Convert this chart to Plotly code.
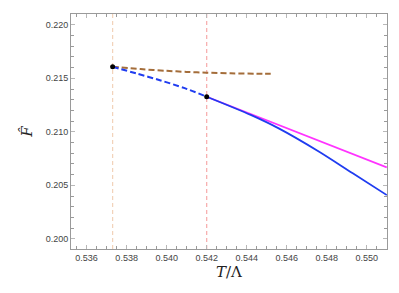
import plotly.graph_objects as go

# --- data ---
transition_T = [0.5373, 0.5420]          # vertical dashed markers
transition_colors = ["#f2d2ba", "#f7aaaa"]

brown_T = [0.5373, 0.5387, 0.5400, 0.5410, 0.5420, 0.5432, 0.5445, 0.5452]
brown_F = [0.21608, 0.21586, 0.21570, 0.21560, 0.21553, 0.21547, 0.21543, 0.21542]

blue_dash_T = [0.5373, 0.5385, 0.5397, 0.5409, 0.5420]
blue_dash_F = [0.21608, 0.21545, 0.21480, 0.21408, 0.21328]

blue_T = [0.5420, 0.5442, 0.5456, 0.5476, 0.5493, 0.5510]
blue_F = [0.21328, 0.21158, 0.21032, 0.20816, 0.20612, 0.20409]

magenta_T = [0.5420, 0.5465, 0.5510]
magenta_F = [0.21328, 0.20998, 0.20668]

dots_T = [0.5373, 0.5420]
dots_F = [0.21608, 0.21328]

x_ticks = [0.536, 0.538, 0.540, 0.542, 0.544, 0.546, 0.548, 0.550]
y_ticks = [0.200, 0.205, 0.210, 0.215, 0.220]

fig = go.Figure()

for xv, c in zip(transition_T, transition_colors):
    fig.add_vline(x=xv, line=dict(color=c, width=1.2, dash="4px,3px"), layer="below")

fig.add_trace(go.Scatter(x=brown_T, y=brown_F, mode="lines",
                         line=dict(color="#a46d3a", width=2, dash="6px,3px",
                                   shape="spline", smoothing=0.8)))
fig.add_trace(go.Scatter(x=blue_dash_T, y=blue_dash_F, mode="lines",
                         line=dict(color="#1f3cf0", width=2, dash="6px,3px",
                                   shape="spline", smoothing=0.8)))
fig.add_trace(go.Scatter(x=magenta_T, y=magenta_F, mode="lines",
                         line=dict(color="#ff33ff", width=1.8)))
fig.add_trace(go.Scatter(x=blue_T, y=blue_F, mode="lines",
                         line=dict(color="#1f3cf0", width=1.8,
                                   shape="spline", smoothing=0.8)))
fig.add_trace(go.Scatter(x=dots_T, y=dots_F, mode="markers",
                         marker=dict(color="black", size=5)))

axis_common = dict(
    showgrid=False, zeroline=False, showline=True, mirror="allticks",
    linecolor="#9a9a9a", linewidth=1, ticks="inside", ticklen=4,
    tickcolor="#b8b8b8", tickwidth=1, automargin=False,
    tickfont=dict(family="Liberation Sans, Arial, sans-serif", size=9, color="#444"),
)

fig.update_xaxes(
    **axis_common,
    range=[0.53522, 0.55101],
    tickvals=x_ticks, ticktext=[f"{v:.3f}" for v in x_ticks],
    minor=dict(dtick=0.0005, tick0=0.536, ticks="inside", ticklen=3, tickcolor="#9a9a9a"),
    title=dict(text="<i>T</i>/Λ", font=dict(family="DejaVu Serif, serif", size=15, color="#222"),
               standoff=4),
)
fig.update_yaxes(
    **axis_common,
    range=[0.19905, 0.22101],
    tickvals=y_ticks, ticktext=[f"{v:.3f}" for v in y_ticks],
    minor=dict(dtick=0.001, tick0=0.2, ticks="inside", ticklen=3, tickcolor="#9a9a9a"),
    title=dict(text="<i>F̂</i>", font=dict(family="DejaVu Serif, serif", size=15, color="#222"),
               standoff=9),
)

fig.update_layout(
    width=391, height=285,
    margin=dict(l=63, r=12, t=6, b=44),
    plot_bgcolor="white", paper_bgcolor="white",
    showlegend=False,
)

fig.write_html("out.html")
